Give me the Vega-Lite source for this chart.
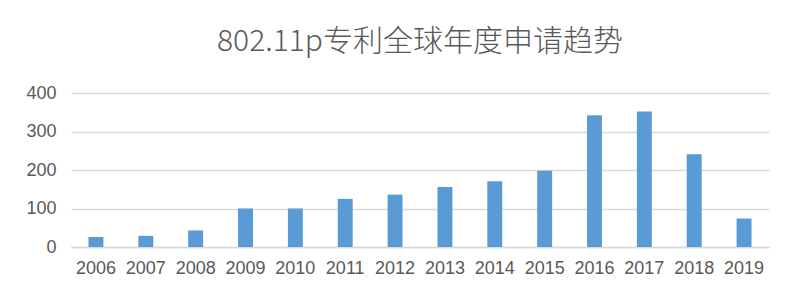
{
  "$schema": "https://vega.github.io/schema/vega-lite/v6.json",
  "width": 698,
  "height": 154,
  "autosize": {"type": "none"},
  "padding": {"left": 71, "top": 93, "right": 31, "bottom": 53},
  "background": "#ffffff",
  "title": {
    "text": "802.11p专利全球年度申请趋势",
    "fontSize": 30,
    "font": "Noto Sans CJK SC",
    "fontWeight": 300,
    "color": "#595959",
    "anchor": "middle",
    "offset": 27
  },
  "data": {
    "values": [
      {"year": "2006", "count": 26},
      {"year": "2007", "count": 29},
      {"year": "2008", "count": 43},
      {"year": "2009", "count": 100},
      {"year": "2010", "count": 100},
      {"year": "2011", "count": 125},
      {"year": "2012", "count": 136},
      {"year": "2013", "count": 156},
      {"year": "2014", "count": 171},
      {"year": "2015", "count": 198},
      {"year": "2016", "count": 342},
      {"year": "2017", "count": 352},
      {"year": "2018", "count": 241},
      {"year": "2019", "count": 74}
    ]
  },
  "mark": {"type": "bar", "color": "#5B9BD5"},
  "encoding": {
    "x": {
      "field": "year",
      "type": "ordinal",
      "scale": {"paddingInner": 0.7, "paddingOuter": 0.35},
      "axis": {
        "title": null,
        "labelAngle": 0,
        "ticks": false,
        "domain": true,
        "domainColor": "#D9D9D9",
        "domainWidth": 1.5,
        "labelFont": "Liberation Sans",
        "labelFontSize": 18,
        "labelColor": "#595959",
        "labelPadding": 12
      }
    },
    "y": {
      "field": "count",
      "type": "quantitative",
      "scale": {"domain": [0, 400]},
      "axis": {
        "title": null,
        "values": [0, 100, 200, 300, 400],
        "ticks": false,
        "domain": false,
        "grid": true,
        "gridColor": "#D9D9D9",
        "gridWidth": 1.5,
        "labelFont": "Liberation Sans",
        "labelFontSize": 18,
        "labelColor": "#595959",
        "labelPadding": 15
      }
    }
  },
  "config": {
    "view": {"stroke": null}
  }
}
